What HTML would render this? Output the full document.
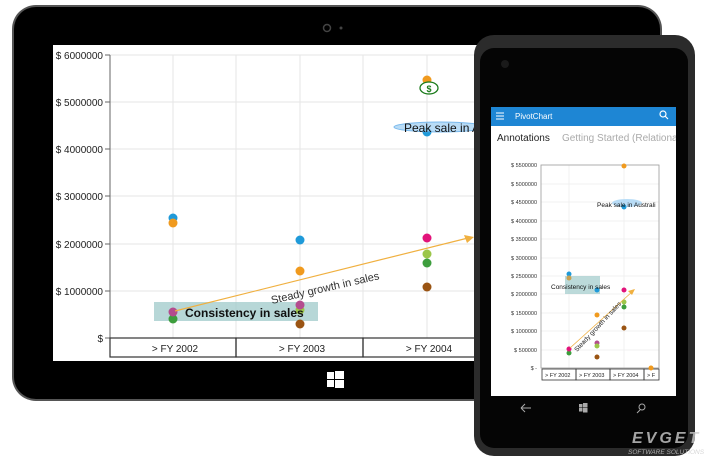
<!DOCTYPE html>
<html><head><meta charset="utf-8"><style>
body{margin:0;width:720px;height:461px;background:#fff;overflow:hidden;font-family:"Liberation Sans",sans-serif}
</style></head><body>
<svg width="720" height="461" viewBox="0 0 720 461" xmlns="http://www.w3.org/2000/svg" font-family="Liberation Sans, sans-serif">
<defs><clipPath id="ps"><rect x="491" y="107" width="185" height="289"/></clipPath></defs>
<!-- tablet -->
<rect x="12" y="5" width="650" height="396" rx="24" fill="#555"/>
<rect x="14" y="7" width="646" height="392" rx="22" fill="#000"/>
<circle cx="327" cy="28" r="3.5" fill="none" stroke="#444" stroke-width="1.5"/>
<circle cx="341" cy="28" r="1.5" fill="#444"/>
<rect x="53" y="45" width="430" height="316" fill="#fff"/>
<g stroke="#e6e6e6" stroke-width="1">
<line x1="110" y1="55" x2="483" y2="55"/><line x1="110" y1="102" x2="483" y2="102"/><line x1="110" y1="149" x2="483" y2="149"/>
<line x1="110" y1="196" x2="483" y2="196"/><line x1="110" y1="244" x2="483" y2="244"/><line x1="110" y1="291" x2="483" y2="291"/>
<line x1="173" y1="55" x2="173" y2="338"/><line x1="236" y1="55" x2="236" y2="338"/><line x1="300" y1="55" x2="300" y2="338"/><line x1="363" y1="55" x2="363" y2="338"/><line x1="427" y1="55" x2="427" y2="338"/>
</g>
<line x1="110" y1="55" x2="110" y2="357" stroke="#666"/>
<g stroke="#666"><line x1="105" y1="55" x2="110" y2="55"/><line x1="105" y1="102" x2="110" y2="102"/><line x1="105" y1="149" x2="110" y2="149"/><line x1="105" y1="196" x2="110" y2="196"/><line x1="105" y1="244" x2="110" y2="244"/><line x1="105" y1="291" x2="110" y2="291"/><line x1="105" y1="338" x2="110" y2="338"/></g>
<g font-size="10" fill="#222" text-anchor="end">
<text x="103" y="59">$ 6000000</text><text x="103" y="106">$ 5000000</text><text x="103" y="153">$ 4000000</text><text x="103" y="200">$ 3000000</text><text x="103" y="248">$ 2000000</text><text x="103" y="295">$ 1000000</text><text x="103" y="342">$</text></g>
<g fill="none" stroke="#333" stroke-width="1.2"><rect x="110" y="338" width="126" height="19"/><rect x="236" y="338" width="127" height="19"/><rect x="363" y="338" width="127" height="19"/></g>
<g font-size="10" fill="#222" text-anchor="middle"><text x="175" y="352">&gt; FY 2002</text><text x="302" y="352">&gt; FY 2003</text><text x="429" y="352">&gt; FY 2004</text></g>
<rect x="154" y="302" width="164" height="19" fill="#9fcaca" opacity="0.75"/>
<g>
<circle cx="173" cy="218" r="4.5" fill="#1f9ad9"/><circle cx="173" cy="223" r="4.5" fill="#f09a1e"/><circle cx="173" cy="319" r="4.5" fill="#3d9e3d"/><circle cx="173" cy="312" r="4.5" fill="#b44c8e"/>
<circle cx="300" cy="240" r="4.5" fill="#1f9ad9"/><circle cx="300" cy="271" r="4.5" fill="#f09a1e"/><circle cx="300" cy="310" r="4.5" fill="#9cc64a"/><circle cx="300" cy="305" r="4.5" fill="#b44c8e"/><circle cx="300" cy="324" r="4.5" fill="#9a5413"/>
<circle cx="427" cy="80" r="4.5" fill="#f09a1e"/><circle cx="427" cy="132" r="4.5" fill="#1f9ad9"/><circle cx="427" cy="238" r="4.5" fill="#e2137a"/><circle cx="427" cy="254" r="4.5" fill="#9cc64a"/><circle cx="427" cy="263" r="4.5" fill="#3d9e3d"/><circle cx="427" cy="287" r="4.5" fill="#9a5413"/>
</g>
<ellipse cx="429" cy="88" rx="9" ry="6" fill="#fff" stroke="#1a7a1a" stroke-width="1.3"/><text x="429" y="92" font-size="9" font-weight="bold" fill="#1a7a1a" text-anchor="middle">$</text>
<ellipse cx="440" cy="127" rx="46" ry="5" fill="#a8d4f5" stroke="#5aa8e8" opacity="0.8"/>
<text x="404" y="132" font-size="12" fill="#111">Peak sale in A</text>
<text x="185" y="317" font-size="12" font-weight="bold" fill="#111">Consistency in sales</text>
<line x1="175" y1="311" x2="468" y2="238" stroke="#f0b040" stroke-width="1.2"/><polygon points="474,237 464,235 467,243" fill="#f0b040"/>
<text x="272" y="304" font-size="11" fill="#333" transform="rotate(-13 272 304)">Steady growth in sales</text>
<g fill="#fff"><rect x="327" y="372" width="7" height="7"/><rect x="335" y="371" width="9" height="8"/><rect x="327" y="380" width="7" height="7"/><rect x="335" y="380" width="9" height="8"/></g>
<!-- phone -->
<rect x="474" y="35" width="221" height="421" rx="20" fill="#2b2b2b"/>
<rect x="480" y="48" width="208" height="400" rx="14" fill="#050505"/>
<circle cx="505" cy="64" r="4" fill="#1a1a1a"/>
<rect x="491" y="107" width="185" height="289" fill="#fff"/>
<rect x="491" y="107" width="185" height="19" fill="#1e86d4"/>
<g stroke="#fff"><line x1="496" y1="113" x2="504" y2="113"/><line x1="496" y1="116" x2="504" y2="116"/><line x1="496" y1="119" x2="504" y2="119"/></g>
<text x="515" y="119" font-size="8" fill="#fff">PivotChart</text>
<circle cx="663" cy="114" r="3" fill="none" stroke="#fff" stroke-width="1.2"/><line x1="665" y1="116" x2="668" y2="119" stroke="#fff" stroke-width="1.2"/>
<g clip-path="url(#ps)">
<text x="497" y="141" font-size="10" fill="#222">Annotations</text>
<text x="562" y="141" font-size="10" fill="#aaa">Getting Started (Relational)</text>
</g>
<g stroke="#ececec" stroke-width="0.7">
<line x1="541" y1="184" x2="659" y2="184"/><line x1="541" y1="202" x2="659" y2="202"/><line x1="541" y1="221" x2="659" y2="221"/><line x1="541" y1="239" x2="659" y2="239"/><line x1="541" y1="258" x2="659" y2="258"/><line x1="541" y1="276" x2="659" y2="276"/><line x1="541" y1="294" x2="659" y2="294"/><line x1="541" y1="313" x2="659" y2="313"/><line x1="541" y1="331" x2="659" y2="331"/><line x1="541" y1="350" x2="659" y2="350"/>
<line x1="569" y1="165" x2="569" y2="368"/><line x1="624" y1="165" x2="624" y2="368"/></g>
<rect x="541" y="165" width="118" height="203" fill="none" stroke="#999" stroke-width="0.8"/>
<g font-size="5.5" fill="#333" text-anchor="end">
<text x="537" y="167">$ 5500000</text><text x="537" y="186">$ 5000000</text><text x="537" y="204">$ 4500000</text><text x="537" y="223">$ 4000000</text><text x="537" y="241">$ 3500000</text><text x="537" y="260">$ 3000000</text><text x="537" y="278">$ 2500000</text><text x="537" y="296">$ 2000000</text><text x="537" y="315">$ 1500000</text><text x="537" y="333">$ 1000000</text><text x="537" y="352">$ 500000</text><text x="537" y="370">$ -</text></g>
<g fill="none" stroke="#333" stroke-width="0.8"><rect x="542" y="369" width="34" height="11"/><rect x="576" y="369" width="34" height="11"/><rect x="610" y="369" width="34" height="11"/><rect x="644" y="369" width="15" height="11"/></g>
<g font-size="5.5" fill="#222"><text x="545" y="377">&gt; FY 2002</text><text x="579" y="377">&gt; FY 2003</text><text x="613" y="377">&gt; FY 2004</text><text x="647" y="377">&gt; F</text></g>
<rect x="565" y="276" width="35" height="18" fill="#9fcaca" opacity="0.7"/>
<ellipse cx="627" cy="203" rx="15" ry="4" fill="#a8d4f5" opacity="0.8"/>
<g>
<circle cx="569" cy="274" r="2.5" fill="#1f9ad9"/><circle cx="569" cy="278" r="2.5" fill="#c8a050"/><circle cx="569" cy="353" r="2.5" fill="#3d9e3d"/><circle cx="569" cy="349" r="2.5" fill="#e2137a"/>
<circle cx="597" cy="290" r="2.5" fill="#1f9ad9"/><circle cx="597" cy="315" r="2.5" fill="#f09a1e"/><circle cx="597" cy="343" r="2.5" fill="#b44c8e"/><circle cx="597" cy="346" r="2.5" fill="#9cc64a"/><circle cx="597" cy="357" r="2.5" fill="#9a5413"/>
<circle cx="624" cy="166" r="2.5" fill="#f09a1e"/><circle cx="624" cy="207" r="2.5" fill="#1f9ad9"/><circle cx="624" cy="290" r="2.5" fill="#e2137a"/><circle cx="624" cy="302" r="2.5" fill="#9cc64a"/><circle cx="624" cy="307" r="2.5" fill="#3d9e3d"/><circle cx="624" cy="328" r="2.5" fill="#9a5413"/><circle cx="651" cy="368" r="2.5" fill="#f09a1e"/>
</g>
<text x="597" y="207" font-size="6.5" fill="#111">Peak sale in Australi</text>
<text x="551" y="289" font-size="6.5" fill="#111">Consistency in sales</text>
<line x1="570" y1="348" x2="633" y2="291" stroke="#f0b040" stroke-width="0.8"/><polygon points="635,289 628,291 632,295" fill="#f0b040"/>
<text x="577" y="352" font-size="6.5" fill="#222" transform="rotate(-47 577 352)">Steady growth in sales</text>
<path d="M531 408 H521 M521 408 L525 404 M521 408 L525 412" stroke="#aaa" fill="none"/>
<g fill="#aaa"><rect x="579" y="404" width="3.5" height="3.5"/><rect x="583" y="403" width="4.5" height="4.5"/><rect x="579" y="408" width="3.5" height="3.5"/><rect x="583" y="408" width="4.5" height="4.5"/></g>
<circle cx="642" cy="407" r="3" fill="none" stroke="#aaa"/><line x1="640" y1="410" x2="637" y2="413" stroke="#aaa"/>
<text x="632" y="443" font-size="16" font-weight="bold" font-style="italic" fill="#ccc" opacity="0.8" letter-spacing="3">EVGET</text>
<text x="628" y="454" font-size="6.5" font-style="italic" fill="#ccc" opacity="0.8">SOFTWARE SOLUTIONS</text>
</svg>
</body></html>
